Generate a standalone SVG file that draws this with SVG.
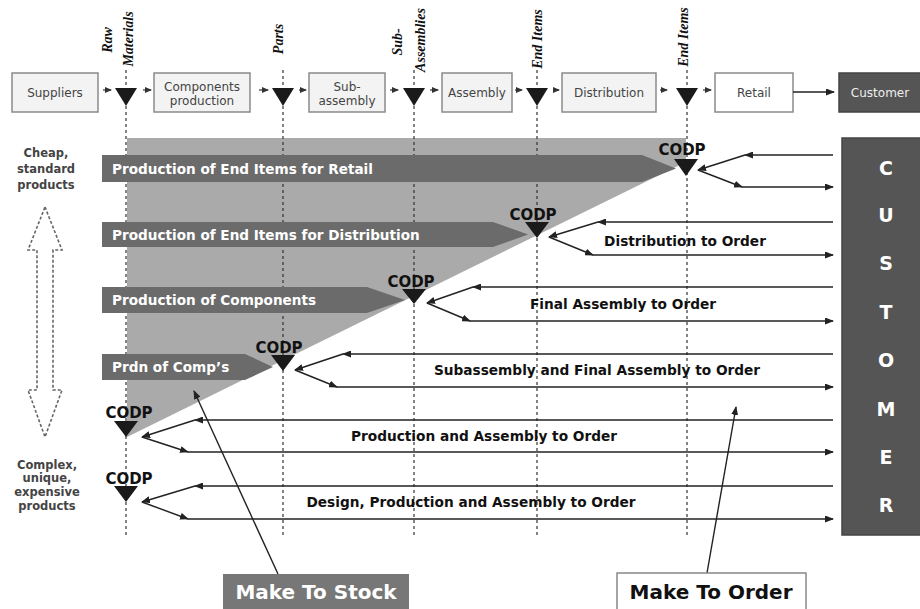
<svg xmlns="http://www.w3.org/2000/svg" width="920" height="609" viewBox="0 0 920 609">
<defs>
<style>
.box{fill:#f3f3f3;stroke:#8a8a8a;stroke-width:1.5}
.btxt{font-family:"DejaVu Sans",Verdana,sans-serif;font-size:12px;fill:#444;text-anchor:middle}
.rot{font-family:"Liberation Serif","Times New Roman",serif;font-size:14px;font-style:italic;font-weight:bold;fill:#111;text-anchor:middle}
.dash{stroke:#333;stroke-width:1.2;stroke-dasharray:3,3;fill:none}
.tri{fill:#1a1a1a}
.bar{fill:#6b6b6b}
.bartxt{font-family:"DejaVu Sans",Verdana,sans-serif;font-size:13.6px;font-weight:bold;fill:#fff}
.codp{font-family:"DejaVu Sans",Verdana,sans-serif;font-size:15px;font-weight:bold;fill:#111;text-anchor:middle}
.ln{stroke:#222;stroke-width:1.4;fill:none;marker-end:url(#ah)}
.sm{stroke:#333;stroke-width:1.2;fill:none;marker-end:url(#sah)}
.lbl{font-family:"DejaVu Sans",Verdana,sans-serif;font-size:13.7px;font-weight:bold;fill:#111;text-anchor:middle}
.side{font-family:"DejaVu Sans",Verdana,sans-serif;font-size:11.5px;font-weight:bold;fill:#444;text-anchor:middle}
.cust{font-family:"DejaVu Sans",Verdana,sans-serif;font-size:19px;font-weight:bold;fill:#fff;text-anchor:middle}
.big{font-family:"DejaVu Sans",Verdana,sans-serif;font-size:20px;font-weight:bold;text-anchor:middle}
</style>
<marker id="ah" markerUnits="userSpaceOnUse" markerWidth="9" markerHeight="7" refX="8" refY="3.5" orient="auto"><path d="M0,0 L9,3.5 L0,7 z" fill="#222"/></marker>
<marker id="sah" markerUnits="userSpaceOnUse" markerWidth="7" markerHeight="6" refX="6" refY="3" orient="auto"><path d="M0,0 L7,3 L0,6 z" fill="#333"/></marker>
</defs>
<rect width="920" height="609" fill="#fff"/>

<!-- stock region -->
<polygon points="127,138 686,138 686,162 127,437" fill="#aaaaaa"/>

<!-- dashed decoupling lines -->
<g id="decoupling-lines">
<line class="dash" x1="126" y1="70" x2="126" y2="537"/>
<line class="dash" x1="283" y1="70" x2="283" y2="537"/>
<line class="dash" x1="414" y1="70" x2="414" y2="537"/>
<line class="dash" x1="537" y1="70" x2="537" y2="537"/>
<line class="dash" x1="687" y1="70" x2="687" y2="537"/>
</g>

<!-- rotated labels -->
<g id="stock-labels">
<text class="rot" transform="translate(112,40) rotate(-90)">Raw</text>
<text class="rot" transform="translate(133,39) rotate(-90)">Materials</text>
<text class="rot" transform="translate(283,39) rotate(-90)">Parts</text>
<text class="rot" transform="translate(402,42) rotate(-90)">Sub-</text>
<text class="rot" transform="translate(425,40) rotate(-90)">Assemblies</text>
<text class="rot" transform="translate(542,39) rotate(-90)">End Items</text>
<text class="rot" transform="translate(688,37) rotate(-90)">End Items</text>
</g>

<!-- top chain -->
<g id="suppliers"><rect class="box" x="12" y="73" width="86" height="39"/><text class="btxt" x="55" y="97">Suppliers</text></g>
<g id="components"><rect class="box" x="154" y="73" width="96" height="39"/><text class="btxt" x="202" y="91">Components</text><text class="btxt" x="202" y="105">production</text></g>
<g id="subassembly"><rect class="box" x="309" y="73" width="76" height="39"/><text class="btxt" x="347" y="91">Sub-</text><text class="btxt" x="347" y="105">assembly</text></g>
<g id="assembly"><rect class="box" x="442" y="73" width="70" height="39"/><text class="btxt" x="477" y="97">Assembly</text></g>
<g id="distribution"><rect class="box" x="562" y="73" width="94" height="39"/><text class="btxt" x="609" y="97">Distribution</text></g>
<g id="retail"><rect class="box" x="715" y="73" width="78" height="39" style="fill:#fff"/><text class="btxt" x="754" y="97">Retail</text></g>
<g id="customer-top"><rect x="839" y="73" width="85" height="39" fill="#555" stroke="#444" stroke-width="1.5"/><text class="btxt" x="880" y="97" style="fill:#eee">Customer</text></g>

<g id="stock-points">
<polygon class="tri" points="115,88 137,88 126,106"/>
<polygon class="tri" points="272,88 294,88 283,106"/>
<polygon class="tri" points="403,88 425,88 414,106"/>
<polygon class="tri" points="526,88 548,88 537,106"/>
<polygon class="tri" points="676,88 698,88 687,106"/>
</g>

<g id="chain-connectors">
<line class="sm" x1="103" y1="90" x2="111" y2="90"/>
<line class="sm" x1="143" y1="90" x2="151" y2="90"/>
<line class="sm" x1="259" y1="90" x2="268" y2="90"/>
<line class="sm" x1="299" y1="90" x2="306" y2="90"/>
<line class="sm" x1="390" y1="90" x2="398" y2="90"/>
<line class="sm" x1="430" y1="90" x2="438" y2="90"/>
<line class="sm" x1="515" y1="90" x2="522" y2="90"/>
<line class="sm" x1="553" y1="90" x2="559" y2="90"/>
<line class="sm" x1="660" y1="90" x2="667" y2="90"/>
<line class="sm" x1="703" y1="90" x2="711" y2="90"/>
<line class="ln" x1="793" y1="92" x2="834" y2="92"/>
</g>

<!-- production bars -->
<g id="bar-retail"><polygon class="bar" points="102,155 642,155 676,168.5 642,182 102,182"/><text class="bartxt" x="112" y="173.5">Production of End Items for Retail</text></g>
<g id="bar-distribution"><polygon class="bar" points="102,222 493,222 528,234.5 493,247 102,247"/><text class="bartxt" x="112" y="239.5">Production of End Items for Distribution</text></g>
<g id="bar-components"><polygon class="bar" points="102,287 367,287 405,300 367,313 102,313"/><text class="bartxt" x="112" y="305">Production of Components</text></g>
<g id="bar-comps"><polygon class="bar" points="102,354 245,354 273,367 245,380 102,380"/><text class="bartxt" x="112" y="372">Prdn of Comp’s</text></g>

<!-- CODPs -->
<g id="codp1"><text class="codp" x="682" y="155">CODP</text><polygon class="tri" points="674,159 698,159 686,176"/></g>
<g id="codp2"><text class="codp" x="533" y="220">CODP</text><polygon class="tri" points="525,222 549,222 537,238"/></g>
<g id="codp3"><text class="codp" x="411" y="287">CODP</text><polygon class="tri" points="402,289 426,289 414,304"/></g>
<g id="codp4"><text class="codp" x="279" y="353">CODP</text><polygon class="tri" points="271,355 295,355 283,371"/></g>
<g id="codp5"><text class="codp" x="129" y="418">CODP</text><polygon class="tri" points="114,421 138,421 126,437"/></g>
<g id="codp6"><text class="codp" x="129" y="484">CODP</text><polygon class="tri" points="114,486 138,486 126,502"/></g>

<!-- customer order flows -->
<g id="connectors">
<line class="ln" x1="833" y1="155" x2="745" y2="155"/><line class="ln" x1="745" y1="155" x2="698" y2="170"/><line class="ln" x1="698" y1="170" x2="742" y2="187"/><line class="ln" x1="742" y1="187" x2="833" y2="187"/>
<line class="ln" x1="833" y1="222" x2="598" y2="222"/><line class="ln" x1="598" y1="222" x2="549" y2="237"/><line class="ln" x1="549" y1="237" x2="593" y2="255"/><line class="ln" x1="593" y1="255" x2="833" y2="255"/>
<line class="ln" x1="833" y1="287" x2="473" y2="287"/><line class="ln" x1="473" y1="287" x2="427" y2="303"/><line class="ln" x1="427" y1="303" x2="470" y2="321"/><line class="ln" x1="470" y1="321" x2="833" y2="321"/>
<line class="ln" x1="833" y1="354" x2="343" y2="354"/><line class="ln" x1="343" y1="354" x2="295" y2="370"/><line class="ln" x1="295" y1="370" x2="337" y2="387"/><line class="ln" x1="337" y1="387" x2="833" y2="387"/>
<line class="ln" x1="833" y1="420" x2="195" y2="420"/><line class="ln" x1="195" y1="420" x2="142" y2="437"/><line class="ln" x1="142" y1="437" x2="188" y2="452"/><line class="ln" x1="188" y1="452" x2="833" y2="452"/>
<line class="ln" x1="833" y1="486" x2="195" y2="486"/><line class="ln" x1="195" y1="486" x2="142" y2="502"/><line class="ln" x1="142" y1="502" x2="188" y2="519"/><line class="ln" x1="188" y1="519" x2="833" y2="519"/>
<line class="ln" x1="278" y1="574" x2="194" y2="391"/>
<line class="ln" x1="707" y1="573" x2="736" y2="407"/>
</g>

<g id="flow-labels">
<text class="lbl" x="685" y="246">Distribution to Order</text>
<text class="lbl" x="623" y="309">Final Assembly to Order</text>
<text class="lbl" x="597" y="375">Subassembly and Final Assembly to Order</text>
<text class="lbl" x="484" y="441">Production and Assembly to Order</text>
<text class="lbl" x="471" y="507">Design, Production and Assembly to Order</text>
</g>

<!-- customer column -->
<g id="customer">
<rect x="842" y="138" width="80" height="397" fill="#555" stroke="#444" stroke-width="1.5"/>
<text class="cust" x="886" y="175">C</text>
<text class="cust" x="886" y="222">U</text>
<text class="cust" x="886" y="270">S</text>
<text class="cust" x="886" y="319">T</text>
<text class="cust" x="886" y="367">O</text>
<text class="cust" x="886" y="416">M</text>
<text class="cust" x="886" y="464">E</text>
<text class="cust" x="886" y="512">R</text>
</g>

<!-- left scale -->
<g id="scale-top"><text class="side" x="46" y="157">Cheap,</text><text class="side" x="46" y="173">standard</text><text class="side" x="46" y="189">products</text></g>
<g id="scale-arrow"><path d="M45,207 L62,250 L53,250 L53,390 L62,390 L45,437 L28,390 L37,390 L37,250 L28,250 Z" fill="none" stroke="#666" stroke-width="1.6" stroke-dasharray="3,2"/></g>
<g id="scale-bottom"><text class="side" x="47" y="469">Complex,</text><text class="side" x="47" y="482">unique,</text><text class="side" x="47" y="496">expensive</text><text class="side" x="47" y="510">products</text></g>

<g id="make-to-stock"><rect x="223" y="574" width="186" height="40" fill="#777"/><text class="big" x="316" y="599" fill="#fff">Make To Stock</text></g>
<g id="make-to-order"><rect x="617" y="573" width="189" height="40" fill="#fff" stroke="#888" stroke-width="1.5"/><text class="big" x="711" y="599" fill="#111">Make To Order</text></g>
</svg>
